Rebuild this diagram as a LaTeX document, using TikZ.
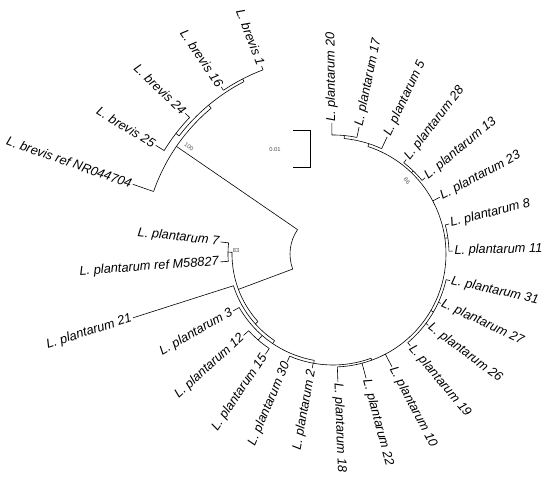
\documentclass[tikz,border=0pt]{standalone}
\usepackage{fontspec}
\setmainfont{Liberation Sans}
\begin{document}
\begin{tikzpicture}[x=1pt,y=1pt,line width=0.6pt,line cap=butt,
  lbl/.style={font=\fontsize{12.8}{14}\selectfont\itshape, inner sep=1.2pt},
  boot/.style={font=\fontsize{5.8}{6}\selectfont, inner sep=0pt, text=black!70}]
\useasboundingbox (0,0) rectangle (550,478);
\coordinate (C) at (333,224);
% arcs: radius/start/end
\foreach \r/\s/\e in {43/145.5/200.5, 190/129.9/160.8, 194/117.3/142.5, 198/136.4/148.5, 197/110.8/123.8,
  101/179/222, 105/173.9/184, 104.5/197.7/236, 108/209.7/260, 114/222.3/236, 111/247/290,
  113/272.2/432, 116/310.1/347.2, 116/361.4/374.5, 115.5/399.6/412.2, 116/425.2/444.5, 119/438.4/450.5}
  {\draw ([shift={(C)}]\s:\r) arc[start angle=\s, end angle=\e, radius=\r];}
% stems: angle/r1/r2
\foreach \a/\ra/\rb in {145.5/43/190, 200.5/43/101, 129.9/190/194, 142.5/194/198, 117.3/194/197,
  179/101/105, 222/101/104.5, 236/104.5/108, 229/108/114, 260/108/111, 290/111/113,
  330/113/116, 368/113/116, 406/113/115.5, 432/113/116, 444.5/116/119}
  {\draw ([shift={(C)}]\a:\ra) -- ([shift={(C)}]\a:\rb);}
% leaves: name/angle/rbase/rtip/side/text
\foreach \n/\a/\rb/\rt/\sd/\t in {
  b1/110.8/197/201/L/L. brevis 1,
  b16/123.8/197/201/L/L. brevis 16,
  b24/136.4/198/204/L/L. brevis 24,
  b25/148.5/198/208/L/L. brevis 25,
  bref/160.8/190/212/L/L. brevis ref NR044704,
  p7/173.9/105/113/L/L. plantarum 7,
  pref/184/105/113/L/L. plantarum ref M58827,
  p21/197.7/104.5/210/L/L. plantarum 21,
  p3/209.7/108/115/L/L. plantarum 3,
  p12/222.3/114/121/L/L. plantarum 12,
  p15/236/114/121/L/L. plantarum 15,
  p30/247/111/117/L/L. plantarum 30,
  p2/259.7/111/116/L/L. plantarum 2,
  p18/272.2/113/128/R/L. plantarum 18,
  p22/284.9/113/128.5/R/L. plantarum 22,
  p10/297.6/113/127/R/L. plantarum 10,
  p19/310.1/116/120/R/L. plantarum 19,
  p26/323.2/116/119/R/L. plantarum 26,
  p27/335.4/116/118.5/R/L. plantarum 27,
  p31/347.2/116/120/R/L. plantarum 31,
  p11/361.4/116/120/R/L. plantarum 11,
  p8/374.5/116/120/R/L. plantarum 8,
  p23/388/113/121/R/L. plantarum 23,
  p13/399.6/115.5/119.5/R/L. plantarum 13,
  p28/412.2/115.5/119.5/R/L. plantarum 28,
  p5/425.2/116/129/R/L. plantarum 5,
  p17/438.4/119/129.6/R/L. plantarum 17,
  p20/450.5/119/131/R/L. plantarum 20}
  {\coordinate (b-\n) at ([shift={(C)}]\a:\rb);
   \coordinate (t-\n) at ([shift={(C)}]\a:\rt);
   \draw (b-\n) -- (t-\n);
   \if\sd L
     \node[lbl, anchor=east, rotate=\a-180] (l-\n) at (t-\n) {\t};
   \else
     \node[lbl, anchor=west, rotate=\a] (l-\n) at (t-\n) {\t};
   \fi}
% bootstrap values
\node[boot, rotate=-35] (bs100) at (189,331) {100};
\node[boot] (bs83) at (236,227) {83};
\node[boot, rotate=-50] (bs86) at (407,297) {86};
% scale bar
\coordinate (sb1) at (293,348);
\coordinate (sb2) at (310,348);
\coordinate (sb3) at (310,311);
\coordinate (sb4) at (293,311);
\draw (sb1) -- (sb2) -- (sb3) -- (sb4);
\node[boot] (sbl) at (275,328) {0.01};
\end{tikzpicture}
\end{document}
